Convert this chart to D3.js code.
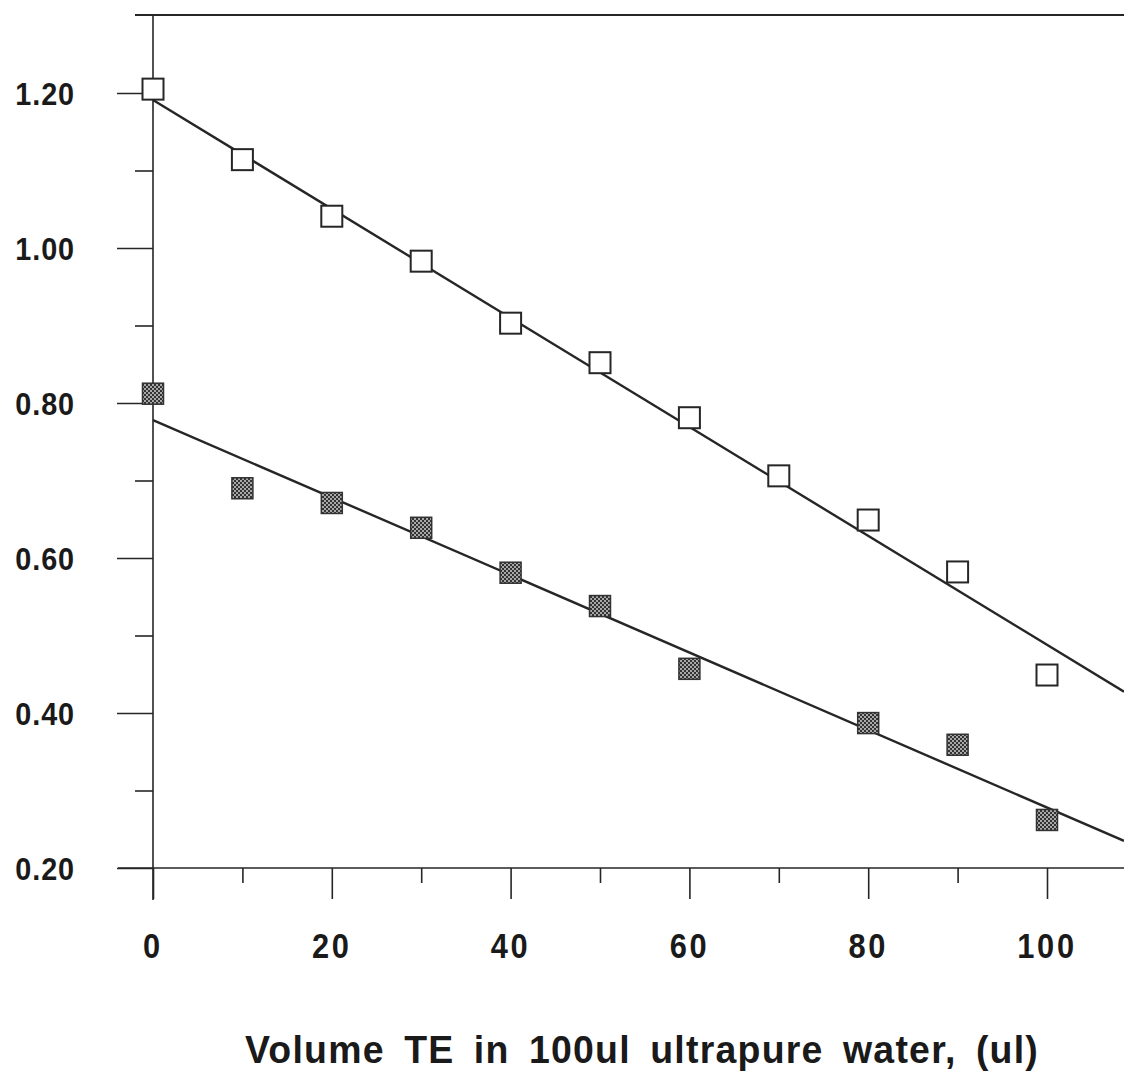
<!DOCTYPE html>
<html>
<head>
<meta charset="utf-8">
<script src="https://cdn.jsdelivr.net/npm/d3@7"></script>
<style>
  html, body { margin: 0; padding: 0; background: #fff; }
  svg { display: block; }
  text { font-family: "Liberation Sans", Arial, sans-serif; font-weight: bold; fill: #1a1a1a; }
</style>
</head>
<body>
<svg id="chart" width="1124" height="1072"></svg>
<script>
// ---- data ----
const xOpen = [0, 10, 20, 30, 40, 50, 60, 70, 80, 90, 100];
const yOpen = [1.205, 1.114, 1.041, 0.983, 0.903, 0.852, 0.781, 0.706, 0.649, 0.582, 0.449];
const xFilled = [0, 10, 20, 30, 40, 50, 60, 80, 90, 100];
const yFilled = [0.812, 0.690, 0.671, 0.639, 0.581, 0.538, 0.457, 0.387, 0.359, 0.262];
// fitted lines: [intercept, slope]
const fitOpen = [1.191, -0.00703];
const fitFilled = [0.778, -0.00500];
const xTickMajor = [0, 20, 40, 60, 80, 100];
const xTickMinor = [10, 30, 50, 70, 90];
const yTickMajor = [0.20, 0.40, 0.60, 0.80, 1.00, 1.20];
const yTickMinor = [0.30, 0.50, 0.70, 0.90, 1.10];
const xTitle = "Volume TE in 100ul ultrapure water, (ul)";

// ---- scales ----
const svg = d3.select("#chart");
const x = d3.scaleLinear().domain([0, 100]).range([153, 1047]);
const y = d3.scaleLinear().domain([0.2, 1.2]).range([868, 93]);
const xEnd = x.invert(1124);
const ink = "#262626";

// pattern for filled squares
const defs = svg.append("defs");
const pat = defs.append("pattern").attr("id", "chk").attr("width", 4).attr("height", 4)
  .attr("patternUnits", "userSpaceOnUse");
pat.append("rect").attr("width", 4).attr("height", 4).attr("fill", "#333");
pat.append("rect").attr("x", 0).attr("y", 0).attr("width", 2).attr("height", 2).attr("fill", "#a8a8a8");
pat.append("rect").attr("x", 2).attr("y", 2).attr("width", 2).attr("height", 2).attr("fill", "#a8a8a8");

// frame lines
svg.append("line").attr("x1", 135).attr("x2", 1124).attr("y1", 15).attr("y2", 15)
  .attr("stroke", ink).attr("stroke-width", 2);
svg.append("line").attr("x1", x(0)).attr("x2", x(0)).attr("y1", 15).attr("y2", 900)
  .attr("stroke", ink).attr("stroke-width", 1.6);
svg.append("line").attr("x1", 118).attr("x2", 1124).attr("y1", y(0.2)).attr("y2", y(0.2))
  .attr("stroke", ink).attr("stroke-width", 1.6);

// y axis ticks via d3.axisLeft
const gy = svg.append("g").attr("transform", `translate(${x(0)},0)`)
  .call(d3.axisLeft(y).tickValues(yTickMajor).tickSize(36).tickFormat(""));
gy.select(".domain").remove();
gy.selectAll(".tick line").attr("stroke", ink).attr("stroke-width", 1.6);
const gyMin = svg.append("g").attr("transform", `translate(${x(0)},0)`)
  .call(d3.axisLeft(y).tickValues(yTickMinor).tickSize(18).tickFormat(""));
gyMin.select(".domain").remove();
gyMin.selectAll(".tick line").attr("stroke", ink).attr("stroke-width", 1.6);

// y tick labels (condensed bold)
const fy = d3.format(".2f");
svg.append("g").selectAll("text").data(yTickMajor).join("text")
  .attr("transform", d => `translate(75,${y(d) + 12}) scale(0.9,1)`)
  .attr("text-anchor", "end").attr("font-size", 32).attr("letter-spacing", 1)
  .text(d => fy(d));

// x axis ticks
const gx = svg.append("g").attr("transform", `translate(0,${y(0.2)})`)
  .call(d3.axisBottom(x).tickValues(xTickMajor).tickSize(31).tickFormat(""));
gx.select(".domain").remove();
gx.selectAll(".tick line").attr("stroke", ink).attr("stroke-width", 1.6);
const gxMin = svg.append("g").attr("transform", `translate(0,${y(0.2)})`)
  .call(d3.axisBottom(x).tickValues(xTickMinor).tickSize(15).tickFormat(""));
gxMin.select(".domain").remove();
gxMin.selectAll(".tick line").attr("stroke", ink).attr("stroke-width", 1.6);

// x tick labels
svg.append("g").selectAll("text").data(xTickMajor).join("text")
  .attr("transform", d => `translate(${x(d)},958) scale(0.88,1)`)
  .attr("text-anchor", "middle").attr("font-size", 35).attr("letter-spacing", 3)
  .text(d => d3.format("d")(d));

// fit lines
const line = d3.line().x(d => x(d[0])).y(d => y(d[1]));
[fitOpen, fitFilled].forEach(f => {
  svg.append("path")
    .datum([[0, f[0]], [xEnd, f[0] + f[1] * xEnd]])
    .attr("d", line).attr("fill", "none").attr("stroke", ink).attr("stroke-width", 2.4);
});

// markers
const S = 21;
svg.append("g").selectAll("rect").data(xOpen.map((v, i) => [v, yOpen[i]])).join("rect")
  .attr("x", d => x(d[0]) - S / 2).attr("y", d => y(d[1]) - S / 2)
  .attr("width", S).attr("height", S)
  .attr("fill", "#fff").attr("stroke", ink).attr("stroke-width", 2);
svg.append("g").selectAll("rect").data(xFilled.map((v, i) => [v, yFilled[i]])).join("rect")
  .attr("x", d => x(d[0]) - S / 2).attr("y", d => y(d[1]) - S / 2)
  .attr("width", S).attr("height", S)
  .attr("fill", "url(#chk)").attr("stroke", "#333").attr("stroke-width", 1.5);

// axis title (bold, spaced words)
svg.append("text")
  .attr("transform", `translate(642,1063) scale(0.96,1)`)
  .attr("text-anchor", "middle")
  .attr("font-size", 39).attr("letter-spacing", 1.3).attr("word-spacing", 8)
  .text(xTitle);
</script>
</body>
</html>
